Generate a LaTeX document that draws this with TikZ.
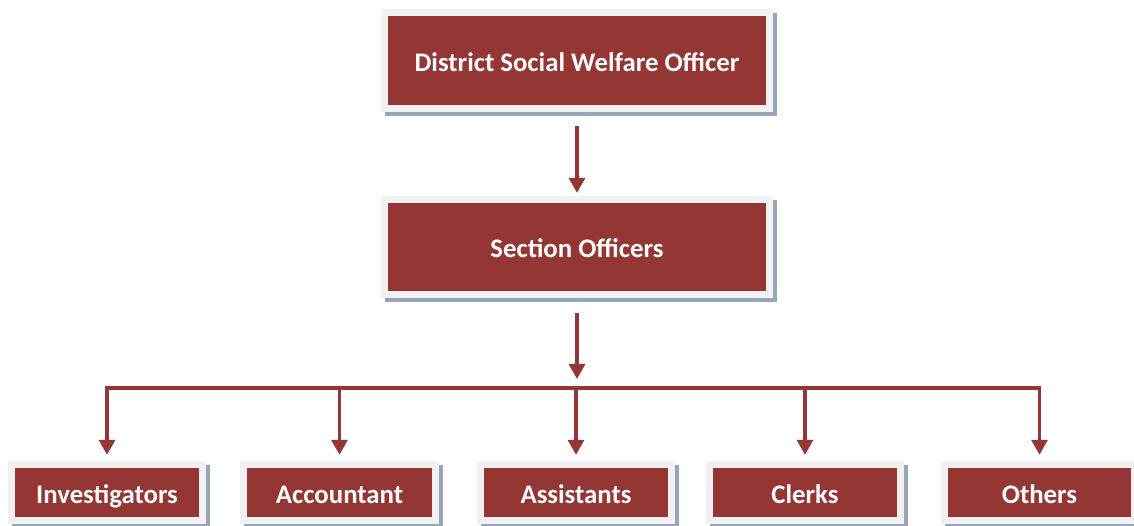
\documentclass[tikz,border=0pt]{standalone}
\usepackage{fontspec}
\setmainfont{Carlito}
\usetikzlibrary{arrows.meta,backgrounds}
\definecolor{boxred}{HTML}{943634}
\definecolor{framegray}{HTML}{F1F1F1}
\definecolor{shadowc}{HTML}{98A5B8}
\begin{document}
\begin{tikzpicture}[x=1pt,y=1pt,
  orgbox/.style={fill=boxred, text=white, font=\bfseries\fontsize{26.8}{30}\selectfont, inner sep=0pt, anchor=center, text height=21.5pt, text depth=0pt},
  conn/.style={draw=boxred, line width=3.3pt},
  arr/.style={conn, -{Triangle[width=16pt,length=15pt]}}]
\useasboundingbox (0,0) rectangle (1134,526);
\node[orgbox, minimum width=378pt, minimum height=89pt] (dswo) at (577,465.5) {District Social Welfare Officer};
\node[orgbox, minimum width=378pt, minimum height=88pt] (so) at (577,279) {Section Officers};
\node[orgbox, minimum width=184pt, minimum height=49pt] (inv) at (107,33.5) {Investigators};
\node[orgbox, minimum width=185pt, minimum height=49pt] (acc) at (339.5,33.5) {Accountant};
\node[orgbox, minimum width=184pt, minimum height=49pt] (ast) at (576,33.5) {Assistants};
\node[orgbox, minimum width=184pt, minimum height=49pt] (clk) at (805,33.5) {Clerks};
\node[orgbox, minimum width=183pt, minimum height=49pt] (oth) at (1039.5,33.5) {Others};
\begin{scope}[on background layer]
\fill[white] (0,0) rectangle (1134,526);
\foreach \n in {dswo,so,inv,acc,ast,clk,oth}{
  \fill[shadowc] ([shift={(-3pt,-11pt)}]\n.south west) rectangle ([shift={(11pt,3pt)}]\n.north east);
  \fill[framegray] ([shift={(-7pt,-7pt)}]\n.south west) rectangle ([shift={(7pt,7pt)}]\n.north east);
}
\end{scope}
\coordinate (bus) at (577,138);
\draw[arr] ([yshift=-21pt]dswo.south) -- ([yshift=10pt]so.north);
\draw[arr] ([yshift=-22pt]so.south) -- ([yshift=9pt]bus);
\draw[conn, line cap=rect] (inv.north|-bus) -- (oth.north|-bus);
\foreach \n in {inv,acc,ast,clk,oth}{
  \draw[arr] (\n.north|-bus) -- ([yshift=13pt]\n.north);
}
\end{tikzpicture}
\end{document}
